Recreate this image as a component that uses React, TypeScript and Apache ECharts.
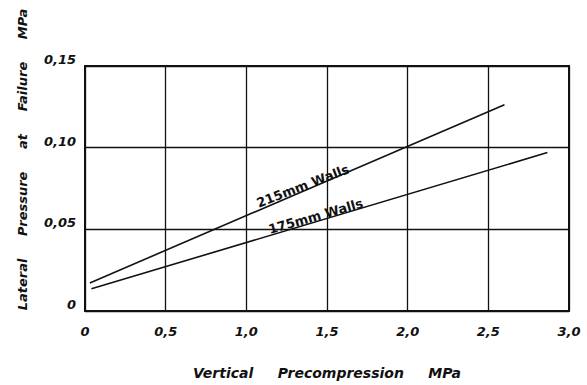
import React, { useEffect, useRef } from "react";
import * as echarts from "echarts";

// Vertical precompression (MPa) vs lateral pressure at failure (MPa)
const walls215X = [0.03, 2.6];
const walls215Y = [0.0172, 0.1263];
const walls175X = [0.04, 2.866];
const walls175Y = [0.0136, 0.097];

const xTicks = { min: 0, max: 3, interval: 0.5 };
const yTicks = { min: 0, max: 0.15, interval: 0.05 };

const label215 = { text: "215mm Walls", x: 1.35, y: 0.0765 };
const label175 = { text: "175mm Walls", x: 1.43, y: 0.058 };

const FONT = "DejaVu Sans";

export default function App() {
  const ref = useRef<HTMLDivElement>(null);
  useEffect(() => {
    if (!ref.current) return;
    const chart = echarts.init(ref.current, null, { renderer: "svg" });
    const toPairs = (xs: number[], ys: number[]) => xs.map((x, i) => [x, ys[i]]);
    const lineStyle = { color: "#111", width: 1.6 };
    const tickLabel = {
      color: "#111",
      fontFamily: FONT,
      fontStyle: "italic" as const,
      fontWeight: "bold" as const,
      fontSize: 12,
    };
    const wallLabel = (l: { text: string; x: number; y: number }, rot: number) => ({
      coord: [l.x, l.y],
      symbolSize: 0,
      label: {
        show: true,
        position: "inside",
        formatter: l.text,
        rotate: rot,
        color: "#111",
        fontFamily: FONT,
        fontWeight: "bold",
        fontSize: 13,
      },
    });
    chart.setOption({
      animation: false,
      backgroundColor: "#fff",
      grid: {
        left: 85,
        right: 18,
        top: 66,
        bottom: 73,
        show: true,
        borderColor: "#111",
        borderWidth: 2,
      },
      xAxis: {
        type: "value",
        ...xTicks,
        name: "Vertical     Precompression     MPa",
        nameLocation: "middle",
        nameGap: 62,
        nameTextStyle: { ...tickLabel, fontSize: 14, verticalAlign: "middle" },
        axisLine: { show: false },
        axisTick: { show: false },
        splitLine: { lineStyle: { color: "#111", width: 1.3 } },
        axisLabel: {
          ...tickLabel,
          fontSize: 13,
          margin: 14,
          formatter: (v: number) => (v === 0 ? "0" : v.toFixed(1).replace(".", ",")),
        },
      },
      yAxis: {
        type: "value",
        ...yTicks,
        name: "Lateral     Pressure     at     Failure     MPa",
        nameLocation: "middle",
        nameGap: 56,
        nameTextStyle: { ...tickLabel, fontSize: 13, padding: [0, 0, 0, 58] },
        axisLine: { show: false },
        axisTick: { show: false },
        splitLine: { lineStyle: { color: "#111", width: 1.3 } },
        axisLabel: {
          ...tickLabel,
          fontSize: 13,
          margin: 9,
          verticalAlign: "bottom",
          formatter: (v: number) => (v === 0 ? "0" : v.toFixed(2).replace(".", ",")),
        },
      },
      series: [
        {
          type: "line",
          data: toPairs(walls215X, walls215Y),
          symbol: "none",
          lineStyle,
          markPoint: { symbol: "circle", data: [wallLabel(label215, 21)] },
        },
        {
          type: "line",
          data: toPairs(walls175X, walls175Y),
          symbol: "none",
          lineStyle,
          markPoint: { symbol: "circle", data: [wallLabel(label175, 16)] },
        },
      ],
    });
    return () => chart.dispose();
  }, []);
  return (
    <div
      ref={ref}
      style={{ position: "absolute", left: 0, top: 0, width: 587, height: 385 }}
    />
  );
}
